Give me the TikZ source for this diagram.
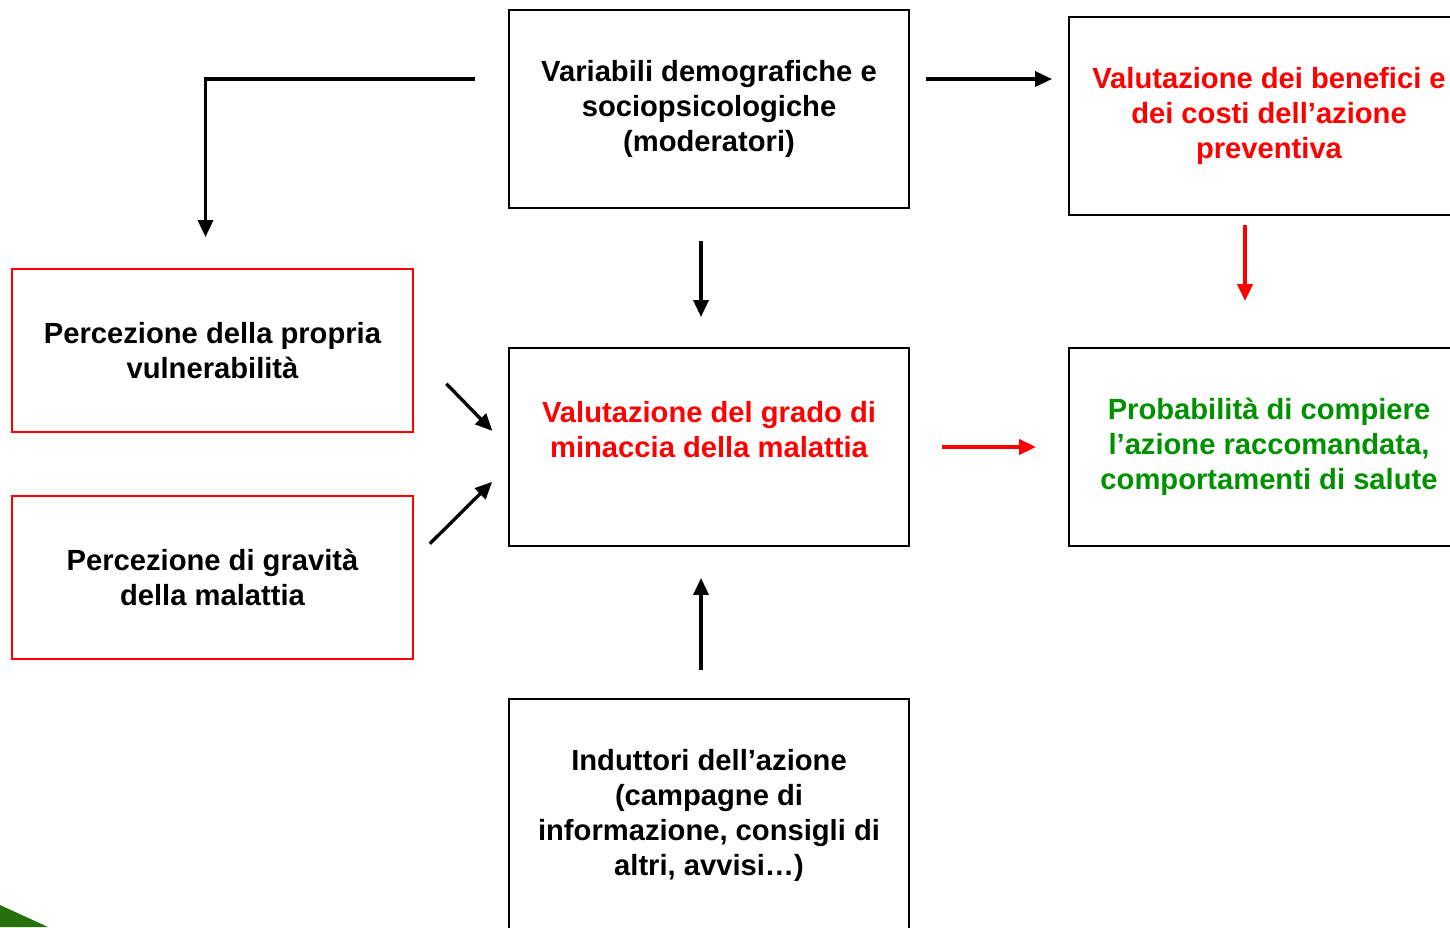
\documentclass[tikz,border=0pt]{standalone}
\usepackage{fontspec}
\setmainfont{Liberation Sans}
\usetikzlibrary{arrows.meta}
\definecolor{boxred}{RGB}{255,0,0}
\definecolor{textgreen}{RGB}{0,145,0}
\definecolor{leafgreen}{RGB}{38,112,12}

\begin{document}
\begin{tikzpicture}[x=0.02cm,y=-0.02cm,>={Triangle[length=0.34cm,width=0.3cm]},
	box/.style={draw, line width=1.1pt, align=center, inner sep=0pt,
		minimum width=8cm, minimum height=3.96cm,
		font=\fontsize{16.6}{19.9}\selectfont\bfseries},
	redbox/.style={box, draw=boxred, minimum width=8.02cm, minimum height=3.26cm},
	link/.style={->, line width=1.9pt},
	redlink/.style={link, draw=boxred, fill=boxred, line width=2.3pt}]
	\useasboundingbox (0,0) rectangle (1450,927);
	\fill[leafgreen] (0,905) -- (48,927) -- (0,927) -- cycle;
	% boxes
	\node[box] (var) at (709,109) {Variabili demografiche e\\sociopsicologiche\\(moderatori)};
	\node[box, text=boxred] (ben) at (1269,116) {Valutazione dei benefici e\\dei costi dell’azione\\preventiva};
	\node[redbox] (vul) at (212.5,350.5) {Percezione della propria\\vulnerabilità};
	\node[redbox] (grav) at (212.5,577.5) {Percezione di gravità\\della malattia};
	\node[box, text=boxred] (min) at (709,447) {Valutazione del grado di\\minaccia della malattia\\\mbox{}};
	\node[box, text=textgreen] (prob) at (1269,447) {Probabilità di compiere\\l’azione raccomandata,\\comportamenti di salute};
	\node[box, minimum height=4.64cm] (ind) at (709,815) {Induttori dell’azione\\(campagne di\\informazione, consigli di\\altri, avvisi…)};
	% arrows
	\draw[link, shorten <=0.66cm, shorten >=0.62cm] ([yshift=0.6cm]var.west) -| ([xshift=-0.14cm]vul.north);
	\draw[link, shorten <=0.32cm, shorten >=0.32cm] ([yshift=0.6cm]var.east) -- ([yshift=0.6cm]var.east -| ben.west);
	\draw[link, shorten <=0.64cm, shorten >=0.6cm] ([xshift=-0.16cm]var.south) -- ([xshift=-0.16cm]min.north);
	\draw[redlink, shorten <=0.18cm, shorten >=0.92cm] ([xshift=-0.48cm]ben.south) -- ([xshift=-0.48cm]prob.north);
	\draw[link, shorten <=0.93cm, shorten >=0.45cm] (vul.east) -- (min.west);
	\draw[link, shorten <=0.45cm, shorten >=0.45cm] ([yshift=0.36cm]grav.east) -- ([yshift=-0.38cm]min.west);
	\draw[redlink, shorten <=0.64cm, shorten >=0.64cm] (min.east) -- (prob.west);
	\draw[link, shorten <=0.56cm, shorten >=0.62cm] ([xshift=-0.16cm]ind.north) -- ([xshift=-0.16cm]min.south);
\end{tikzpicture}
\end{document}
